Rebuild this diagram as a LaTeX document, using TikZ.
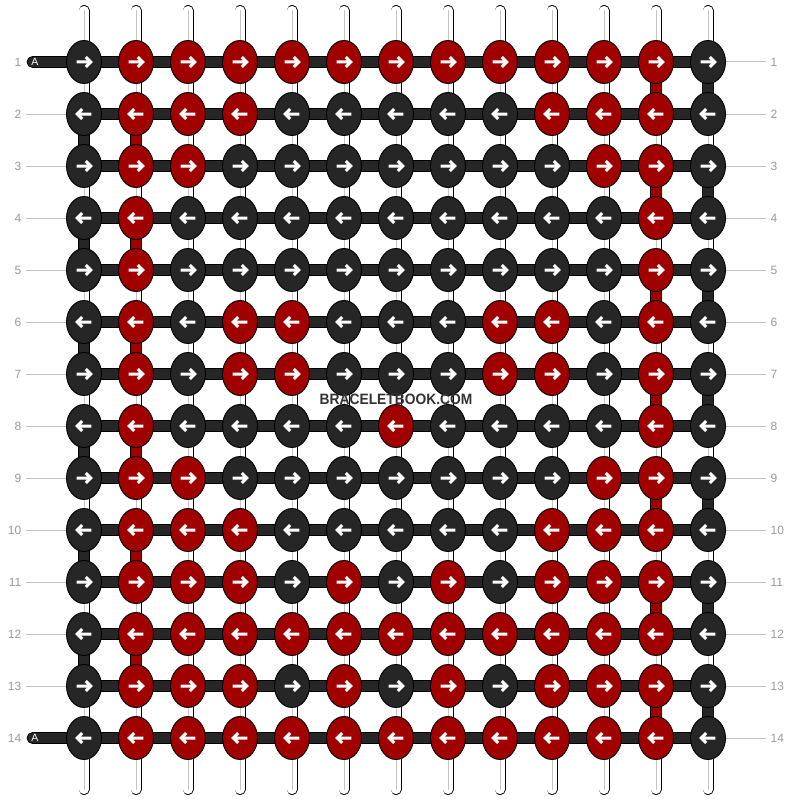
\documentclass[tikz,border=0pt]{standalone}
\usepackage{fontspec}
\setmainfont{Liberation Sans}
\usetikzlibrary{shapes.geometric,backgrounds}
\definecolor{D}{HTML}{262626}
\definecolor{R}{HTML}{A00000}
\definecolor{lbl}{HTML}{9A9A9A}
\definecolor{gline}{HTML}{C4C4C4}
\definecolor{wm}{HTML}{333333}
\tikzset{
  knot/.style={ellipse, draw=black, line width=0.9, minimum width=35, minimum height=43, inner sep=0},
  arr/.style={white, line width=3},
  bar/.style={draw=black, line width=0.8, fill=D},
  rowlbl/.style={text=lbl, font=\fontsize{12}{14}\selectfont, inner sep=0},
  guide/.style={gline, line width=1},
}
\begin{document}
\begin{tikzpicture}[x=1pt,y=-1pt]
\useasboundingbox (0,0) rectangle (792,800);
% knots
\foreach \r/\row in {
 1/{D,R,R,R,R,R,R,R,R,R,R,R,D},
 2/{D,R,R,R,D,D,D,D,D,R,R,R,D},
 3/{D,R,R,D,D,D,D,D,D,D,R,R,D},
 4/{D,R,D,D,D,D,D,D,D,D,D,R,D},
 5/{D,R,D,D,D,D,D,D,D,D,D,R,D},
 6/{D,R,D,R,R,D,D,D,R,R,D,R,D},
 7/{D,R,D,R,R,D,D,D,R,R,D,R,D},
 8/{D,R,D,D,D,D,R,D,D,D,D,R,D},
 9/{D,R,R,D,D,D,D,D,D,D,R,R,D},
 10/{D,R,R,R,D,D,D,D,D,R,R,R,D},
 11/{D,R,R,R,D,R,D,R,D,R,R,R,D},
 12/{D,R,R,R,R,R,R,R,R,R,R,R,D},
 13/{D,R,R,R,D,R,D,R,D,R,R,R,D},
 14/{D,R,R,R,R,R,R,R,R,R,R,R,D}}{
  \pgfmathsetmacro\yy{62+52*(\r-1)}
  \pgfmathsetmacro\dd{ifthenelse(mod(\r,2)==1,1,-1)}
  \foreach \k [count=\c] in \row {
    \pgfmathsetmacro\xx{84+52*(\c-1)}
    \node[knot, fill=\k] (k-\r-\c) at (\xx,\yy) {};
    \begin{scope}[shift={(\xx,\yy)}, xscale=\dd]
      \draw[arr] (-7.3,0) -- (6.6,0) (1.8,-5) -- (6.8,0) -- (1.8,5);
    \end{scope}
  }
  % labels and guides
  \node[rowlbl, anchor=east] (ll-\r) at (21.5,\yy) {\r};
  \node[rowlbl, anchor=west] (rl-\r) at (770.5,\yy) {\r};
  \coordinate (gr-\r) at (766,\yy);
  \draw[guide] (k-\r-13.east) -- (gr-\r);
}
\foreach \r in {2,...,13}{
  \pgfmathsetmacro\yy{62+52*(\r-1)}
  \coordinate (gl-\r) at (26,\yy);
  \draw[guide] (gl-\r) -- (k-\r-1.west);
}
% tails with A
\foreach \r in {1,14}{
  \pgfmathsetmacro\yy{62+52*(\r-1)}
  \node[text=white, font=\fontsize{10.5}{12}\selectfont, inner sep=0] (a-\r) at (34.8,\yy) {A};
}
\node[font=\bfseries\fontsize{15}{16}\selectfont, text=wm, xscale=0.92, inner sep=0] (wmark) at (396,399) {BRACELETBOOK.COM};
\begin{scope}[on background layer]
  \fill[white] (0,0) rectangle (792,800);
  % vertical strings
  \foreach \c in {1,...,13}{
    \pgfmathsetmacro\xx{84+52*(\c-1)}
    \coordinate (top-\c) at (\xx,10.5);
    \coordinate (bot-\c) at (\xx,789.5);
    \draw[black, line width=11, line cap=round] (top-\c) -- (bot-\c);
    \draw[white, line width=9.2, line cap=round] (top-\c) -- (bot-\c);
    \draw[gline, line width=1] (top-\c) -- (bot-\c);
  }
  % coloured vertical segments
  \foreach \r in {2,4,...,12}{
    \pgfmathtruncatemacro\rn{\r+1}
    \draw[draw=black, line width=0.8, fill=D] ([xshift=-5.5]k-\r-1.center) rectangle ([xshift=5.5]k-\rn-1.center);
    \draw[draw=black, line width=0.8, fill=R] ([xshift=-5.5]k-\r-2.center) rectangle ([xshift=5.5]k-\rn-2.center);
  }
  \foreach \r in {1,3,...,13}{
    \pgfmathtruncatemacro\rn{\r+1}
    \draw[draw=black, line width=0.8, fill=R] ([xshift=-5.5]k-\r-12.center) rectangle ([xshift=5.5]k-\rn-12.center);
    \draw[draw=black, line width=0.8, fill=D] ([xshift=-5.5]k-\r-13.center) rectangle ([xshift=5.5]k-\rn-13.center);
  }
  % horizontal bars
  \foreach \r in {1,...,14}{
    \draw[bar] ([yshift=-5.5]k-\r-1.center) rectangle ([yshift=5.5]k-\r-13.center);
  }
  \foreach \r in {1,14}{
    \pgfmathsetmacro\yy{62+52*(\r-1)}
    \coordinate (tail-\r) at (27,\yy);
    \draw[bar, rounded corners=5.5] ([yshift=-5.5]tail-\r) rectangle ([yshift=5.5]k-\r-2.center);
  }
\end{scope}
\end{tikzpicture}
\end{document}
